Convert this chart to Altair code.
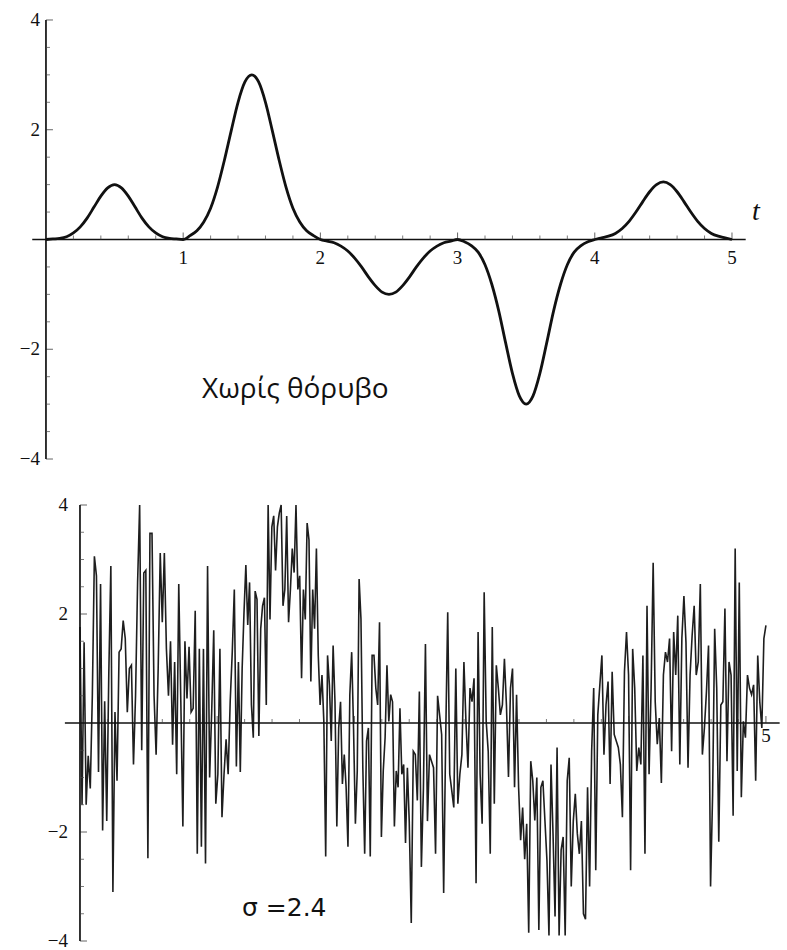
import altair as alt
import numpy as np
import pandas as pd

# ---------------- data ----------------
# clean signal, sampled every 0.05 on t = 0 .. 5
clean_step = 0.05
clean_values = [
    0, 0.01, 0.02, 0.05, 0.12, 0.23, 0.39, 0.59, 0.79, 0.94,
    1.00, 0.94, 0.79, 0.59, 0.39, 0.23, 0.12, 0.05, 0.02, 0.01,
    0, 0.07, 0.16, 0.32, 0.57, 0.95, 1.44, 1.98, 2.50, 2.87,
    3.00, 2.87, 2.50, 1.98, 1.44, 0.95, 0.57, 0.32, 0.16, 0.07,
    0, -0.03, -0.06, -0.12, -0.21, -0.34, -0.50, -0.68, -0.84, -0.96,
    -1.00, -0.96, -0.84, -0.68, -0.50, -0.34, -0.21, -0.12, -0.06, -0.03,
    0, -0.04, -0.11, -0.23, -0.46, -0.82, -1.30, -1.88, -2.44, -2.85,
    -3.00, -2.85, -2.44, -1.88, -1.30, -0.82, -0.46, -0.23, -0.11, -0.04,
    0, 0.03, 0.06, 0.11, 0.20, 0.33, 0.50, 0.69, 0.87, 1.00,
    1.05, 1.00, 0.87, 0.69, 0.50, 0.33, 0.20, 0.11, 0.06, 0.03,
    0,
]

# noisy signal (sigma = 2.4), given in four stretches of t
noise_breaks = [0.0, 1.155, 2.40, 3.64, 5.0]
noise_seg1 = [
    1.76, -1.5, 1.48, -1.5, -0.6, -1.2, 0.5, 3.06, 2.7, -0.9, 2.55, -1.97, 0.4,
    -1.8, 0.9, 2.88, -3.1, 0.2, -1.06, 1.3, 1.36, 1.88, 1.55, 0.2, 1.0, 1.06,
    -0.76, 0.5, 2.58, 4.0, -0.5, 2.75, 2.8, -2.48, 3.48, 3.48, 0.5, -0.58, 1.0,
    3.12, 1.85, 3.12, 1.36, 0.5, 1.5, -0.4, 1.12, -0.94, 2.55, 0.4, -1.9, 1.5,
    0.45, 1.4, 0.2, 0.27, 2.06, -2.4, 1.36, -2.27, 1.36, -2.58, 2.88, -1.0, 0.2,
    1.7, -1.48, -0.94, 1.36, -1.73, -0.94, -0.3, -0.94, 0.4, 1.3, 2.45, -0.8,
]
noise_seg2 = [
    1.12, -0.9, 1.0, 2.03, 2.9, 1.8, 2.58, 0.33, -0.27, 2.42, 2.27, -0.24, 1.73,
    2.15, 2.3, 0.33, 4.0, 1.9, 3.6, 3.8, 2.8, 3.6, 3.85, 4.0, 2.15, 2.45, 3.8,
    1.85, 2.45, 3.2, 2.76, 4.0, 2.45, 2.7, 0.82, 2.45, 1.9, 3.67, 3.36, 0.76,
    2.45, 1.73, 3.2, 1.24, 0.33, 0.88, 0.03, -2.45, 1.24, 0.7, -0.33, 1.42, 0.39,
    -1.9, -0.09, 0.39, -1.12, -0.58, -1.18, -2.27, 0.52, 1.3, -0.09, -1.85,
    -0.88, 2.64, 1.91, -0.82, -2.4, -0.33, -0.09, -2.45, 1.24, 1.24, 0.64, 0.33,
    1.85, -2.09, -0.88, -0.27, 1.06, 0.03, 0.52, 0.39, -1.9, -0.88, -1.18, 0.27,
    -0.94, -0.76, -2.2, -0.82,
]
noise_seg3 = [
    -1.8, -3.67, -0.52, -0.58, -1.42, 0.58, -2.64, -1.2, 1.45, -1.8, -0.58, -0.7,
    -0.82, -2.4, 0.5, 0.15, -0.21, -3.12, -0.27, 2.03, -0.94, -1.24, -1.55, 1.0,
    -1.48, -0.94, -0.58, 1.12, 0.03, -0.82, 0.64, 0.39, 0.82, -2.94, 1.67, -0.94,
    -1.85, 2.4, 0.03, -0.52, -2.4, 1.76, -1.48, 1.06, 0.64, 0.15, 0.33, 1.18,
    0.33, -0.99, 0.64, 1.0, -1.18, 0.52, -1.18, -2.15, -1.55, -2.5, -1.85, -3.85,
    -0.7, -1.06, -1.79, -1.0, -3.8, -1.18, -1.06, -1.79, -2.52, -3.9, -0.76,
    -2.03, -3.55, -0.45, -3.9, -2.33, -2.09, -3.9, -1.06, -0.64, -3.0, -1.8,
    -1.3, -2.03,
]
noise_seg4 = [
    -2.4, -1.8, -3.5, -3.6, -1.18, -3.0, -0.52, 0.64, -2.7, 0.15, 0.7, 1.24,
    -0.58, 0.33, 0.76, -1.12, 0.94, -0.21, -0.33, -0.45, -0.76, -1.73, 0.94,
    1.67, 0.88, -2.7, 1.36, 0.64, -0.88, -0.45, -0.76, 1.24, -2.4, 2.15, -0.94,
    0.64, 2.94, 0.39, -0.39, 0.09, -1.1, 0.88, 1.3, 1.12, 1.55, -0.52, 1.67,
    0.88, 1.97, -0.76, 1.55, 2.33, 1.48, -0.82, 0.88, 1.6, 2.15, 0.88, 1.12,
    2.55, -0.58, -0.09, 0.58, 1.42, -3.0, -1.3, 1.73, 0.64, -2.18, 0.33, 0.39,
    2.1, -0.7, 1.12, 0.88, -1.7, 3.2, -0.88, 2.58, -1.36, 0.03, -0.27, 0.88,
    0.64, 0.52, 0.7, -1.06, 1.24, 0.39, -0.09, 1.55, 1.79,
]

# axis furniture
x_major = [1, 2, 3, 4, 5]
x_minor = [0.2, 0.4, 0.6, 0.8, 1.2, 1.4, 1.6, 1.8, 2.2, 2.4, 2.6, 2.8,
           3.2, 3.4, 3.6, 3.8, 4.2, 4.4, 4.6, 4.8]
y_major = [-4, -2, 2, 4]
y_minor = [-3.5, -3, -2.5, -1.5, -1, -0.5, 0.5, 1, 1.5, 2.5, 3, 3.5]
y_label_text = ["\u22124", "\u22122", "2", "4"]
top_x_labels = ["1", "2", "3", "4", "5"]
bottom_x_label_pos = [5]
bottom_x_labels = ["5"]

# ---------------- frames ----------------
clean_df = pd.DataFrame({"t": np.arange(len(clean_values)) * clean_step,
                         "v": clean_values})

segs = [noise_seg1, noise_seg2, noise_seg3, noise_seg4]
t_parts = []
for i, seg in enumerate(segs):
    last = i == len(segs) - 1
    t_parts.append(np.linspace(noise_breaks[i], noise_breaks[i + 1], len(seg),
                               endpoint=last))
noisy_df = pd.DataFrame({"t": np.concatenate(t_parts),
                         "v": sum(segs, [])})

SERIF = "Liberation Serif"


def panel(curve, curve_mark, xdom, ydom, w, h, axis_x, ylab_dx, xlab_dy,
          xlab_pos, xlab_text, notes):
    xs = alt.Scale(domain=xdom, nice=False, zero=False)
    ys = alt.Scale(domain=ydom, nice=False, zero=False)
    X = lambda f="t": alt.X(f"{f}:Q", scale=xs, axis=None)
    Y = lambda f="v": alt.Y(f"{f}:Q", scale=ys, axis=None)

    line = alt.Chart(curve).mark_line(**curve_mark).encode(x=X(), y=Y())

    xaxis = alt.Chart(pd.DataFrame({"t": [axis_x[0]], "t2": [axis_x[1]],
                                    "v": [0]})).mark_rule(
        color="#111", strokeWidth=1.7).encode(x=X(), x2="t2:Q", y=Y())
    yaxis = alt.Chart(pd.DataFrame({"t": [0], "v": [-4], "v2": [4]})).mark_rule(
        color="#111", strokeWidth=1.7).encode(x=X(), y=Y(), y2="v2:Q")

    xt_major = alt.Chart(pd.DataFrame({"t": x_major, "v": 0})).mark_tick(
        orient="vertical", size=7, thickness=1, yOffset=-3.5, color="#222"
    ).encode(x=X(), y=Y())
    xt_minor = alt.Chart(pd.DataFrame({"t": x_minor, "v": 0})).mark_tick(
        orient="vertical", size=4, thickness=1, yOffset=-2, color="#444"
    ).encode(x=X(), y=Y())
    yt_major = alt.Chart(pd.DataFrame({"t": 0, "v": y_major})).mark_tick(
        orient="horizontal", size=7, thickness=1, xOffset=3.5, color="#222"
    ).encode(x=X(), y=Y())
    yt_minor = alt.Chart(pd.DataFrame({"t": 0, "v": y_minor})).mark_tick(
        orient="horizontal", size=4, thickness=1, xOffset=2, color="#444"
    ).encode(x=X(), y=Y())

    ylab = alt.Chart(pd.DataFrame({"t": 0, "v": y_major,
                                   "label": y_label_text})).mark_text(
        align="right", baseline="middle", dx=ylab_dx, font=SERIF, fontSize=19,
        color="#111").encode(x=X(), y=Y(), text="label:N")
    xlab = alt.Chart(pd.DataFrame({"t": xlab_pos, "v": 0,
                                   "label": xlab_text})).mark_text(
        align="center", baseline="middle", dy=xlab_dy, font=SERIF, fontSize=19,
        color="#111").encode(x=X(), y=Y(), text="label:N")

    layers = [line, xaxis, yaxis, xt_major, xt_minor, yt_major, yt_minor,
              ylab, xlab]
    for note in notes:
        layers.append(
            alt.Chart(pd.DataFrame({"t": [note["t"]], "v": [note["v"]],
                                    "label": [note["text"]]})).mark_text(
                align="left", baseline="alphabetic", font=note["font"],
                fontSize=note["size"], fontStyle=note.get("style", "normal"),
                color="#111").encode(x=X(), y=Y(), text="label:N"))
    return alt.layer(*layers).properties(width=w, height=h)


top = panel(
    clean_df,
    dict(color="#111", strokeWidth=2.8, interpolate="monotone"),
    xdom=[-0.335, 5.248], ydom=[-4.182, 4.364], w=766, h=469,
    axis_x=(-0.1, 5.1), ylab_dx=-6, xlab_dy=19,
    xlab_pos=x_major, xlab_text=top_x_labels,
    notes=[
        {"text": "Χωρίς θόρυβο", "t": 1.137, "v": -2.896,
         "font": "Open Sans", "size": 28},
        {"text": "t", "t": 5.146, "v": 0.364, "font": SERIF, "size": 28,
         "style": "italic"},
    ],
)

bottom = panel(
    noisy_df,
    dict(color="#1e1e1e", strokeWidth=1.6),
    xdom=[-0.583, 5.139], ydom=[-4.110, 4.367], w=785, h=462,
    axis_x=(-0.11, 5.1), ylab_dx=-12, xlab_dy=13,
    xlab_pos=bottom_x_label_pos, xlab_text=bottom_x_labels,
    notes=[
        {"text": "σ =2.4", "t": 1.181, "v": -3.54,
         "font": "DejaVu Sans", "size": 25},
    ],
)

chart = alt.vconcat(top, bottom, spacing=16, bounds="flush").properties(
    padding=0, background="white"
).configure_view(stroke=None)

chart.save("out.html", embed_options={"renderer": "svg", "actions": False})
